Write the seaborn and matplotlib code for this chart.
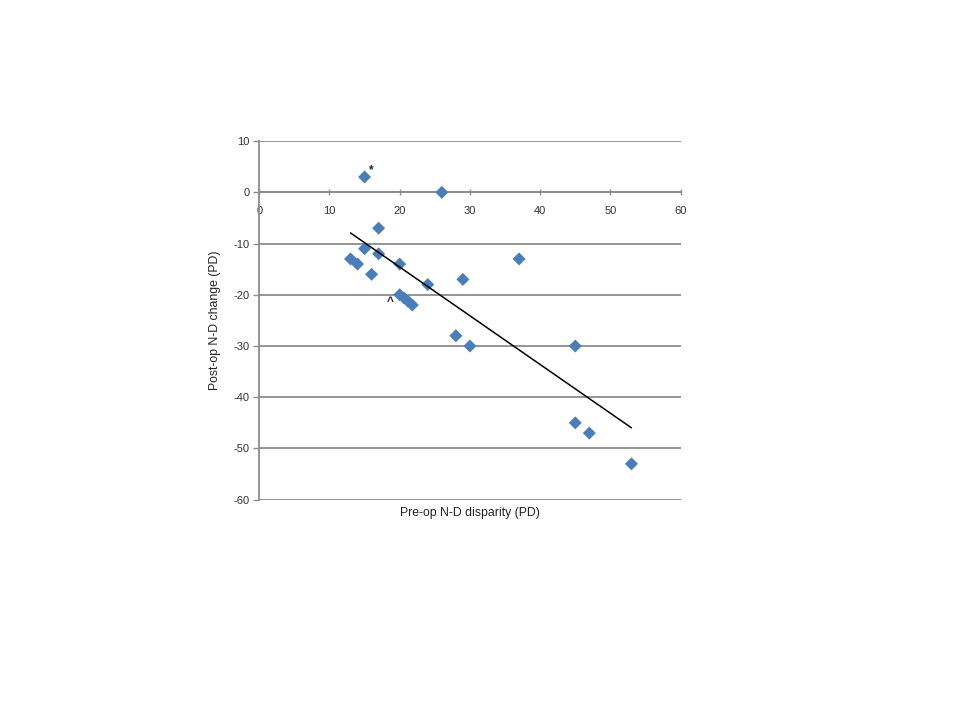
import matplotlib
matplotlib.use("Agg")
import matplotlib.pyplot as plt
import numpy as np
import pandas as pd
import seaborn as sns

# pre-op N-D disparity (PD) vs post-op N-D change (PD)
pre_op = [15, 26, 17, 15, 17, 13, 14, 16, 20, 24, 29, 37,
          20, 20.6, 21.2, 21.8, 28, 30, 45, 45, 47, 53]
post_change = [3, 0, -7, -11, -12, -13, -14, -16, -14, -18, -17, -13,
               -20, -20.6, -21.3, -22, -28, -30, -30, -45, -47, -53]

x_ticks = [0, 10, 20, 30, 40, 50, 60]
y_ticks = [10, 0, -10, -20, -30, -40, -50, -60]

# annotation marks placed beside specific points
notes = [("*", 16.0, 4.4), ("^", 18.6, -21.4)]

POINT_COLOR = "#4a7ebb"
GRID_COLOR = "#8c8c8c"

sns.set_theme(style="white")
plt.rcParams["font.family"] = ["Liberation Sans", "DejaVu Sans"]
plt.rcParams["axes.unicode_minus"] = False

df = pd.DataFrame({"pre": pre_op, "change": post_change})

fig = plt.figure(figsize=(9.6, 7.2), dpi=100)
ax = fig.add_axes([0.27, 0.306, 0.439, 0.498])

sns.regplot(
    data=df, x="pre", y="change", ax=ax, ci=None, marker="D",
    scatter_kws={"s": 44, "color": POINT_COLOR, "edgecolor": "none", "alpha": 1, "zorder": 3},
    line_kws={"color": "black", "linewidth": 1.1, "zorder": 4},
)

for txt, tx, ty in notes:
    ax.text(tx, ty, txt, fontsize=8.5, fontweight="bold", ha="center", va="center", color="#222222")

ax.set_xlim(0, 60)
ax.set_ylim(-60, 10)
ax.set_xticks(x_ticks)
ax.set_yticks(y_ticks)
ax.set_xticklabels([str(v) for v in x_ticks])
ax.set_yticklabels([str(v) for v in y_ticks])

ax.yaxis.grid(True, color=GRID_COLOR, linewidth=1.3)
ax.xaxis.grid(False)
ax.set_axisbelow(True)

for side in ["top", "right"]:
    ax.spines[side].set_visible(False)
ax.spines["bottom"].set_position(("data", 0))
ax.spines["bottom"].set_color(GRID_COLOR)
ax.spines["bottom"].set_linewidth(1.3)
ax.spines["left"].set_color(GRID_COLOR)
ax.spines["left"].set_linewidth(1.3)

ax.tick_params(axis="x", direction="inout", length=5, width=1, color=GRID_COLOR,
               labelsize=8, pad=7, bottom=True, labelcolor="#333333")
ax.tick_params(axis="y", direction="out", length=4, width=1, color=GRID_COLOR,
               labelsize=8, pad=3, left=True, labelcolor="#333333")

ax.set_xlabel("")
ax.set_ylabel("Post-op N-D change (PD)", fontsize=8.8, labelpad=9, color="#222222")
fig.text(0.49, 0.287, "Pre-op N-D disparity (PD)", fontsize=8.8, ha="center", va="center",
         color="#222222")

fig.savefig("out.png", dpi=100)
plt.close(fig)
